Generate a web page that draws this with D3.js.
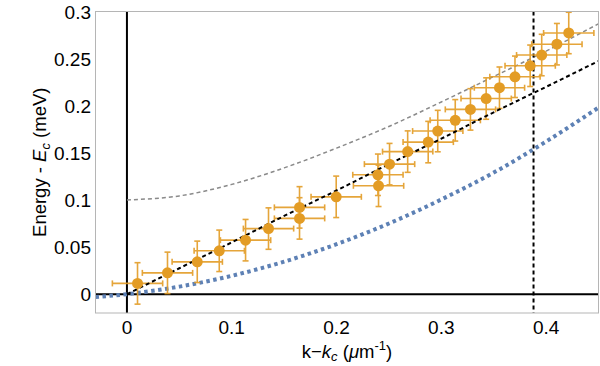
<!DOCTYPE html>
<html>
<head>
<meta charset="utf-8">
<title>Dispersion</title>
<script src="https://cdn.jsdelivr.net/npm/d3@7"></script>
<style>
    body { margin: 0; background: #fff; }
    text { font-family: "Liberation Sans", Arial, sans-serif; }
</style>
</head>
<body>
<div id="chart"></div>
<script>
// measured points (k - kc, energy - Ec)
var kData = [0.0101, 0.0387, 0.0671, 0.0881, 0.1132, 0.1351, 0.1647, 0.1647, 0.1997, 0.2395, 0.2401, 0.2506,
             0.2679, 0.2875, 0.2966, 0.3133, 0.3278, 0.3428, 0.3555, 0.3703, 0.3848, 0.3958, 0.4103, 0.4216];
var eData = [0.0114, 0.0226, 0.0343, 0.0460, 0.0573, 0.0696, 0.0921, 0.0804, 0.1033, 0.1267, 0.1150, 0.1380,
             0.1513, 0.1614, 0.1731, 0.1845, 0.1961, 0.2076, 0.2191, 0.2307, 0.2424, 0.2538, 0.2653, 0.2772];
var kErr = 0.024;
var eErr = 0.022;

// curves
var grayK = [0, 0.05, 0.1, 0.15, 0.2, 0.25, 0.3, 0.35, 0.4, 0.45];
var grayE = [0.1, 0.1043, 0.1165, 0.134, 0.155, 0.178, 0.204, 0.231, 0.258, 0.287];
var blackK = [0, 0.05, 0.1, 0.15, 0.2, 0.25, 0.3, 0.35, 0.4, 0.45];
var blackE = [0, 0.0275, 0.055, 0.083, 0.11, 0.138, 0.165, 0.193, 0.22, 0.2475];
var blueK = [-0.03, 0, 0.05, 0.1, 0.15, 0.2, 0.25, 0.3, 0.35, 0.4, 0.45];
var blueE = [-0.003, 0, 0.008, 0.0195, 0.0345, 0.053, 0.075, 0.1005, 0.129, 0.162, 0.198];
var kCut = 0.388;

var xTicks = [0, 0.1, 0.2, 0.3, 0.4];
var yTicks = [0, 0.05, 0.1, 0.15, 0.2, 0.25, 0.3];
var yTickLabels = ["0", "0.05", "0.1", "0.15", "0.2", "0.25", "0.3"];

var W = 600, H = 366;
var pLeft = 95.5, pRight = 598.5, pTop = 11.5, pBottom = 313;

var svg = d3.select("#chart").append("svg")
    .attr("width", W)
    .attr("height", H);

var x = d3.scaleLinear().domain([-0.03, 0.45]).range([pLeft, pRight]);
var y = d3.scaleLinear().domain([-0.02, 0.3]).range([pBottom, pTop]);

svg.append("defs").append("clipPath").attr("id", "clip")
    .append("rect")
    .attr("x", pLeft).attr("y", pTop)
    .attr("width", pRight - pLeft).attr("height", pBottom - pTop);

var plot = svg.append("g").attr("clip-path", "url(#clip)");

// axes lines through origin
plot.append("line")
    .attr("x1", pLeft).attr("x2", pRight)
    .attr("y1", y(0)).attr("y2", y(0))
    .attr("stroke", "#000").attr("stroke-width", 2);
plot.append("line")
    .attr("x1", x(0)).attr("x2", x(0))
    .attr("y1", pTop).attr("y2", pBottom)
    .attr("stroke", "#000").attr("stroke-width", 2);

var line = d3.line()
    .x(function(d) { return x(d[0]); })
    .y(function(d) { return y(d[1]); })
    .curve(d3.curveMonotoneX);

plot.append("path")
    .datum(blueK.map(function(k, i) { return [k, blueE[i]]; }))
    .attr("d", line)
    .attr("fill", "none")
    .attr("stroke", "#5E81B5")
    .attr("stroke-width", 4)
    .attr("stroke-dasharray", "3.5,3.5");

plot.append("path")
    .datum(grayK.map(function(k, i) { return [k, grayE[i]]; }))
    .attr("d", line)
    .attr("fill", "none")
    .attr("stroke", "#8a8a8a")
    .attr("stroke-width", 1.5)
    .attr("stroke-dasharray", "4,3");

// vertical cut
plot.append("line")
    .attr("x1", x(kCut)).attr("x2", x(kCut))
    .attr("y1", pTop).attr("y2", pBottom)
    .attr("stroke", "#000").attr("stroke-width", 2)
    .attr("stroke-dasharray", "4,3");

// error bars and points
var pts = kData.map(function(k, i) { return [k, eData[i]]; });
var orange = "#E39C25";
var bars = plot.append("g")
    .attr("stroke", orange)
    .attr("stroke-width", 1.6)
    .attr("opacity", 0.9);
var cap = 3;

pts.forEach(function(d) {
    var cx = x(d[0]), cy = y(d[1]);
    var x1 = x(d[0] - kErr), x2 = x(d[0] + kErr);
    var y1 = y(d[1] - eErr), y2 = y(d[1] + eErr);
    bars.append("line").attr("x1", x1).attr("x2", x2).attr("y1", cy).attr("y2", cy);
    bars.append("line").attr("x1", cx).attr("x2", cx).attr("y1", y1).attr("y2", y2);
    bars.append("line").attr("x1", x1).attr("x2", x1).attr("y1", cy - cap).attr("y2", cy + cap);
    bars.append("line").attr("x1", x2).attr("x2", x2).attr("y1", cy - cap).attr("y2", cy + cap);
    bars.append("line").attr("x1", cx - cap).attr("x2", cx + cap).attr("y1", y1).attr("y2", y1);
    bars.append("line").attr("x1", cx - cap).attr("x2", cx + cap).attr("y1", y2).attr("y2", y2);
});

plot.append("path")
    .datum(blackK.map(function(k, i) { return [k, blackE[i]]; }))
    .attr("d", line)
    .attr("fill", "none")
    .attr("stroke", "#000")
    .attr("stroke-width", 2)
    .attr("stroke-dasharray", "4,3");

plot.selectAll("circle")
    .data(pts)
    .enter()
    .append("circle")
    .attr("cx", function(d) { return x(d[0]); })
    .attr("cy", function(d) { return y(d[1]); })
    .attr("r", 5.5)
    .attr("fill", orange);

// frame
svg.append("rect")
    .attr("x", pLeft).attr("y", pTop)
    .attr("width", pRight - pLeft).attr("height", pBottom - pTop)
    .attr("fill", "none")
    .attr("stroke", "#b5b5b5")
    .attr("stroke-width", 1);

// tick labels
svg.selectAll("text.xt")
    .data(xTicks)
    .enter()
    .append("text")
    .attr("class", "xt")
    .attr("x", function(d) { return x(d); })
    .attr("y", 334)
    .attr("text-anchor", "middle")
    .attr("font-size", "19px")
    .text(function(d) { return d === 0 ? "0" : d3.format(".1f")(d); });

svg.selectAll("text.yt")
    .data(yTicks)
    .enter()
    .append("text")
    .attr("class", "yt")
    .attr("x", 91)
    .attr("y", function(d) { return y(d) + 7; })
    .attr("text-anchor", "end")
    .attr("font-size", "19px")
    .text(function(d, i) { return yTickLabels[i]; });

// axis titles
var xl = svg.append("text")
    .attr("x", (pLeft + pRight) / 2)
    .attr("y", 358)
    .attr("text-anchor", "middle")
    .attr("font-size", "18.5px");
xl.append("tspan").text("k\u2212");
xl.append("tspan").attr("font-style", "italic").text("k");
xl.append("tspan").attr("font-size", "13px").attr("dy", 3).attr("font-style", "italic").text("c");
xl.append("tspan").attr("dy", -3).text(" (");
xl.append("tspan").attr("font-style", "italic").text("\u03bc");
xl.append("tspan").text("m");
xl.append("tspan").attr("font-size", "13px").attr("dy", -8).text("-1");
xl.append("tspan").attr("dy", 8).text(")");

var yl = svg.append("text")
    .attr("transform", "translate(46," + ((pTop + pBottom) / 2) + ") rotate(-90)")
    .attr("text-anchor", "middle")
    .attr("font-size", "18.5px");
yl.append("tspan").text("Energy - ");
yl.append("tspan").attr("font-style", "italic").text("E");
yl.append("tspan").attr("font-size", "13px").attr("dy", 4).attr("font-style", "italic").text("c");
yl.append("tspan").attr("dy", -4).text(" (meV)");
</script>
</body>
</html>
